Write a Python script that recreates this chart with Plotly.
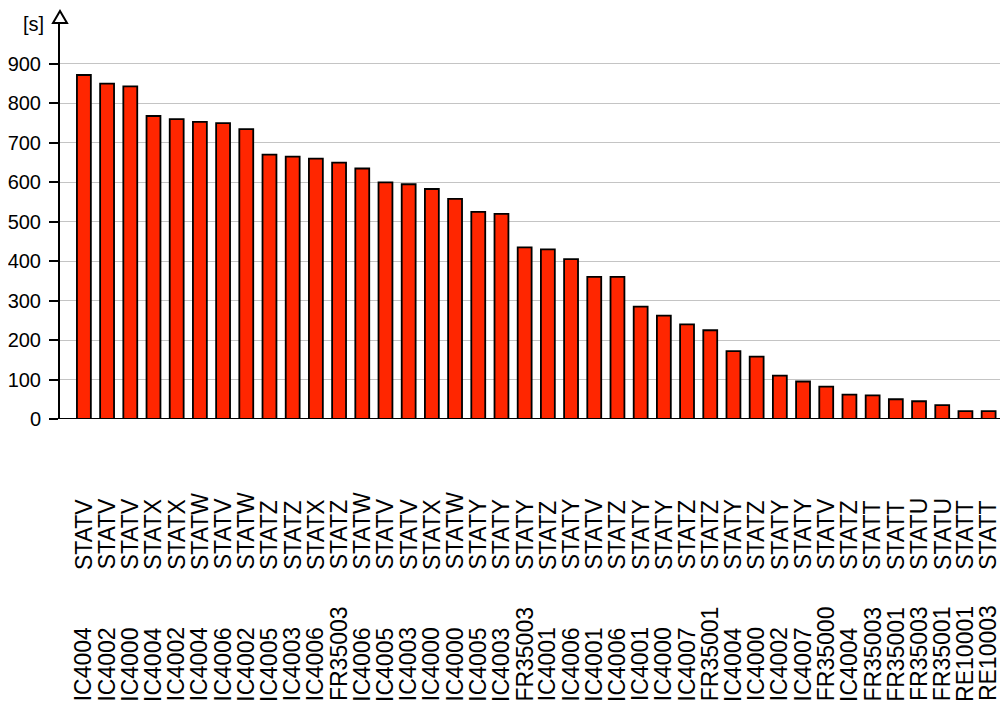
import plotly.graph_objects as go

stations = ["STATV", "STATV", "STATV", "STATX", "STATX", "STATW", "STATV", "STATW",
            "STATZ", "STATZ", "STATX", "STATZ", "STATW", "STATV", "STATV", "STATX",
            "STATW", "STATY", "STATY", "STATY", "STATZ", "STATY", "STATV", "STATZ",
            "STATY", "STATY", "STATZ", "STATZ", "STATY", "STATZ", "STATY", "STATY",
            "STATV", "STATZ", "STATT", "STATT", "STATU", "STATU", "STATT", "STATT"]
codes = ["IC4004", "IC4002", "IC4000", "IC4004", "IC4002", "IC4004", "IC4006", "IC4002",
         "IC4005", "IC4003", "IC4006", "FR35003", "IC4006", "IC4005", "IC4003", "IC4000",
         "IC4000", "IC4005", "IC4003", "FR35003", "IC4001", "IC4006", "IC4001", "IC4006",
         "IC4001", "IC4000", "IC4007", "FR35001", "IC4004", "IC4000", "IC4002", "IC4007",
         "FR35000", "IC4004", "FR35003", "FR35001", "FR35003", "FR35001", "RE10001", "RE10003"]
values = [872, 850, 843, 768, 760, 753, 750, 735, 670, 665, 660, 650, 635, 600, 595, 583,
          558, 525, 520, 435, 430, 405, 360, 360, 285, 262, 240, 225, 172, 158, 110, 95,
          82, 62, 60, 50, 45, 35, 20, 20]
y_ticks = [0, 100, 200, 300, 400, 500, 600, 700, 800, 900]
unit_label = "[s]"

cats = [f"{s} {c}" for s, c in zip(stations, codes)]
FONT = "Liberation Sans, Arial, Helvetica, sans-serif"

# page has an 8px body margin: figure is shifted by 8px, so compensate
PLOT_W = 940
PLOT_H = 397.5

fig = go.Figure()
fig.add_trace(go.Bar(
    x=cats, y=values,
    marker=dict(color="#ff2600", line=dict(color="black", width=1.8)),
    width=0.6,
    hoverinfo="x+y",
))

annotations = []
for cat, s, c in zip(cats, stations, codes):
    annotations.append(dict(x=cat, xref="x", y=-0.382, yref="paper", text=s,
                            textangle=-90, showarrow=False, xanchor="center", yanchor="bottom",
                            font=dict(family=FONT, size=23, color="black"), borderpad=0))
    annotations.append(dict(x=cat, xref="x", y=-0.714, yref="paper", text=c,
                            textangle=-90, showarrow=False, xanchor="center", yanchor="bottom",
                            font=dict(family=FONT, size=23, color="black"), borderpad=0))
annotations.append(dict(x=-14 / PLOT_W, xref="paper", y=(419.5 - 24) / PLOT_H, yref="paper",
                        text=unit_label, showarrow=False, xanchor="right", yanchor="middle",
                        font=dict(family=FONT, size=20, color="black")))

shapes = [
    dict(type="line", xref="paper", yref="y", x0=-10 / PLOT_W, x1=948 / PLOT_W, y0=0, y1=0,
         line=dict(color="black", width=2.2), layer="above"),
    dict(type="path", xref="paper", yref="paper", xsizemode="pixel", ysizemode="pixel",
         xanchor=0, yanchor=1, path="M -7,-1 L 0,11 L 7,-1 Z",
         fillcolor="white", line=dict(color="black", width=2), layer="above"),
]

fig.update_layout(
    width=1000, height=697,
    margin=dict(l=52, r=8, t=14, b=697 - 14 - PLOT_H, autoexpand=False),
    paper_bgcolor="white", plot_bgcolor="white",
    showlegend=False,
    font=dict(family=FONT, size=20, color="black"),
    xaxis=dict(type="category", categoryorder="array", categoryarray=cats,
               range=[-1.03, 39.49], showticklabels=False, ticks="",
               showgrid=False, zeroline=False, showline=False, fixedrange=True),
    yaxis=dict(range=[0, 1006.3], tickvals=y_ticks, showgrid=True, gridcolor="#c4c4c4",
               gridwidth=1, zeroline=False, showline=True, linecolor="black", linewidth=2,
               ticks="outside", ticklen=9, tickwidth=2, tickcolor="black",
               ticklabelstandoff=4,
               tickfont=dict(family=FONT, size=20, color="black"), fixedrange=True),
    annotations=annotations,
    shapes=shapes,
)

fig.write_html("out.html")
